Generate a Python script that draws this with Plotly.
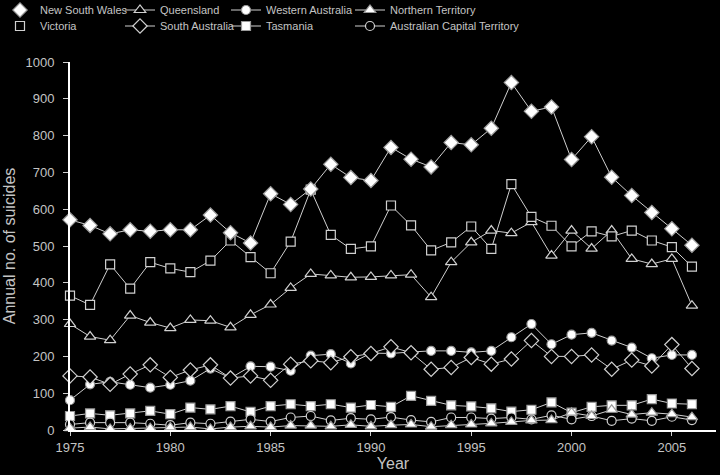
import plotly.graph_objects as go

years = list(range(1975, 2007))

nsw = [571, 556, 533, 544, 540, 544, 544, 584, 536, 508, 642, 613, 655, 722, 686, 678,
       768, 736, 715, 781, 775, 820, 944, 866, 878, 735, 797, 687, 637, 591, 547, 502]
vic = [365, 340, 450, 384, 456, 439, 429, 460, 515, 470, 426, 512, 653, 530, 492, 499,
       610, 556, 488, 510, 553, 492, 668, 579, 555, 499, 540, 526, 542, 515, 497, 444]
qld = [288, 254, 244, 311, 292, 277, 299, 297, 279, 313, 341, 386, 424, 420, 415, 416,
       420, 422, 361, 456, 510, 542, 535, 565, 474, 542, 493, 542, 465, 451, 465, 338]
wa = [81, 124, 131, 123, 115, 123, 134, 167, 141, 173, 172, 161, 202, 206, 181, 209,
      208, 212, 215, 215, 211, 215, 252, 288, 233, 259, 264, 243, 224, 195, 204, 204]
sa = [147, 144, 124, 152, 177, 143, 163, 177, 141, 147, 135, 179, 188, 183, 199, 208,
      226, 210, 165, 170, 197, 179, 193, 243, 200, 200, 204, 165, 190, 174, 232, 167]
tas = [38, 45, 40, 45, 52, 43, 61, 56, 65, 49, 65, 70, 65, 70, 61, 68,
       63, 93, 79, 67, 64, 59, 50, 55, 75, 47, 63, 67, 67, 84, 72, 70]
nt = [5, 8, 3, 4, 5, 7, 8, 3, 8, 10, 8, 12, 12, 10, 14, 10,
      13, 15, 9, 13, 15, 18, 22, 26, 27, 47, 38, 55, 42, 47, 43, 35]
act = [15, 20, 20, 20, 17, 13, 20, 17, 23, 29, 23, 34, 38, 26, 32, 29,
       35, 27, 22, 34, 34, 31, 34, 29, 40, 29, 38, 25, 31, 25, 36, 27]

FG = '#d0d0d0'
TXT = '#c4c4c4'
FONT = 'Liberation Sans, Arial, sans-serif'

# name, data, symbol, filled, line shown in key
series = [
    ('New South Wales', nsw, 'diamond', True, False),
    ('Queensland', qld, 'triangle-up', False, True),
    ('Western Australia', wa, 'circle', True, True),
    ('Northern Territory', nt, 'triangle-up', True, True),
    ('Victoria', vic, 'square', False, False),
    ('South Australia', sa, 'diamond', False, True),
    ('Tasmania', tas, 'square', True, True),
    ('Australian Capital Territory', act, 'circle', False, True),
]
# key position of each entry (text start x, row centre y), px
key_x = [33, 160, 266, 390]
key_y = [10, 26]
sizes = {'diamond': 11, 'triangle-up': 10, 'circle': 9, 'square': 9}


def mk(sym, filled):
    return dict(symbol=sym, size=sizes[sym],
                color='white' if filled else 'black',
                line=dict(color='#9a9a9a' if filled else FG, width=1.2))


fig = go.Figure()
draw_order = [6, 7, 3, 2, 5, 1, 4, 0]  # small series first so big ones sit on top
for i in draw_order:
    name, vals, sym, filled, legline = series[i]
    leg = 'legend' if i == 0 else 'legend%d' % (i + 1)
    fig.add_trace(go.Scatter(
        x=years, y=vals, name=name, mode='lines+markers', legend=leg,
        showlegend=legline, cliponaxis=False,
        line=dict(color=FG, width=1), marker=mk(sym, filled),
    ))
    if not legline:
        # key entry without the connecting line, as in the original
        fig.add_trace(go.Scatter(x=[None], y=[None], name=name, mode='markers',
                                 legend=leg, marker=mk(sym, filled)))

legends = {}
for i in range(8):
    leg = 'legend' if i == 0 else 'legend%d' % (i + 1)
    px = key_x[i % 4] - 40
    py = key_y[i // 4]
    legends[leg] = dict(x=(px - 70) / 646, y=1 - py / 475, xref='paper', yref='container',
                        xanchor='left', yanchor='middle', orientation='v',
                        bgcolor='rgba(0,0,0,0)', font=dict(size=11, color=TXT),
                        itemwidth=30)

fig.update_layout(
    width=720, height=475,
    paper_bgcolor='black', plot_bgcolor='black',
    font=dict(family=FONT, size=13, color=TXT),
    margin=dict(l=70, r=4, t=62, b=45),
    showlegend=True,
    **legends,
)
fig.update_xaxes(range=[1975, 2007.2], tickmode='array', tickvals=[1975, 1980, 1985, 1990, 1995, 2000, 2005],
                 ticks='outside', ticklen=4, tickcolor=FG, showline=True, linecolor='white', linewidth=2,
                 showgrid=False, zeroline=False, title=dict(text='Year', standoff=2),
                 tickfont=dict(size=13, color=TXT))
fig.update_yaxes(range=[0, 1000], dtick=100, ticks='outside', ticklen=5, tickcolor=FG,
                 showline=True, linecolor='white', linewidth=2, showgrid=False, zeroline=False,
                 ticklabelstandoff=6,
                 title=dict(text='Annual no. of suicides', standoff=6),
                 tickfont=dict(size=13, color=TXT))

fig.write_html("out.html", config={'displayModeBar': False},
               post_script="document.body.style.margin='0';")
